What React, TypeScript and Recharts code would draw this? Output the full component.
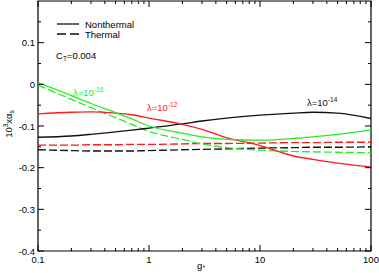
import { Line, LineChart, ReferenceArea, XAxis, YAxis } from "recharts";

const gValues = [0.1, 0.2, 0.3, 0.5, 0.7, 1, 2, 3, 5, 10, 20, 30, 50, 100];

// lambda = 1e-14
const nonthermal14 = [-0.127, -0.124, -0.12, -0.114, -0.11, -0.105, -0.095, -0.088, -0.081, -0.074, -0.069, -0.067, -0.069, -0.082];
const thermal14 = [-0.157, -0.159, -0.16, -0.16, -0.16, -0.159, -0.157, -0.156, -0.155, -0.153, -0.152, -0.151, -0.151, -0.15];
// lambda = 1e-12
const nonthermal12 = [-0.071, -0.067, -0.066, -0.069, -0.073, -0.081, -0.096, -0.108, -0.128, -0.147, -0.172, -0.18, -0.189, -0.198];
const thermal12 = [-0.146, -0.146, -0.145, -0.145, -0.144, -0.144, -0.143, -0.142, -0.142, -0.141, -0.14, -0.14, -0.139, -0.139];
// lambda = 1e-16
const nonthermal16 = [0.004, -0.027, -0.046, -0.068, -0.083, -0.1, -0.117, -0.126, -0.132, -0.134, -0.13, -0.126, -0.12, -0.11];
const thermal16 = [-0.002, -0.036, -0.056, -0.08, -0.096, -0.113, -0.132, -0.143, -0.152, -0.158, -0.161, -0.162, -0.163, -0.164];

const xMajor = [0.1, 1, 10, 100];
const xMinor = [0.2, 0.3, 0.4, 0.5, 0.6, 0.7, 0.8, 0.9, 2, 3, 4, 5, 6, 7, 8, 9, 20, 30, 40, 50, 60, 70, 80, 90];
const yMajor = [-0.4, -0.3, -0.2, -0.1, 0, 0.1];
const yMinor = [-0.35, -0.25, -0.15, -0.05, 0.05, 0.15];
const yLabels = ["-0.4", "-0.3", "-0.2", "-0.1", "0", "0.1"];

const data = gValues.map((g, i) => ({
  g,
  n14: nonthermal14[i],
  t14: thermal14[i],
  n12: nonthermal12[i],
  t12: thermal12[i],
  n16: nonthermal16[i],
  t16: thermal16[i]
}));

const BLACK = "#111";
const RED = "#ff1a1a";
const GREEN = "#22ee22";
const FONT = "'Liberation Sans', Arial, sans-serif";
const DASH = "8 3";

const isMajor = (list: number[], v: number) => list.some((m) => Math.abs(m - v) < 1e-9);

// ticks are thin filled rects pointing into the plot
const BottomTick = (props: any) => {
  const { x, y, payload } = props;
  const len = isMajor(xMajor, payload.value) ? 6 : 3;
  return (
    <g>
      <rect x={x - 0.5} y={y - len} width={1} height={len} fill="#000" />
      {len === 6 && (
        <text x={x} y={y + 12} textAnchor="middle" fontSize={9.5} fontFamily={FONT} fill="#000">
          {payload.value}
        </text>
      )}
    </g>
  );
};

const TopTick = (props: any) => {
  const { x, y, payload } = props;
  const len = isMajor(xMajor, payload.value) ? 6 : 3;
  return <rect x={x - 0.5} y={y} width={1} height={len} fill="#000" />;
};

const LeftTick = (props: any) => {
  const { x, y, payload } = props;
  const idx = yMajor.findIndex((m) => Math.abs(m - payload.value) < 1e-9);
  const len = idx >= 0 ? 6 : 3;
  return (
    <g>
      <rect x={x} y={y - 0.5} width={len} height={1} fill="#000" />
      {idx >= 0 && (
        <text x={x - 3} y={y + 3.5} textAnchor="end" fontSize={9.5} fontFamily={FONT} fill="#000">
          {yLabels[idx]}
        </text>
      )}
    </g>
  );
};

const RightTick = (props: any) => {
  const { x, y, payload } = props;
  const len = isMajor(yMajor, payload.value) ? 6 : 3;
  return <rect x={x - len} y={y - 0.5} width={len} height={1} fill="#000" />;
};

const allX = [...xMajor, ...xMinor].sort((a, b) => a - b);
const allY = [...yMajor, ...yMinor].sort((a, b) => a - b);

export default function App() {
  return (
    <div style={{ position: "absolute", left: 0, top: 0, width: 379, height: 273, background: "#fff" }}>
      <LineChart width={379} height={273} data={data} margin={{ top: 0, right: 7, bottom: 0, left: 0 }}>
        <XAxis
          xAxisId="b"
          dataKey="g"
          type="number"
          scale="log"
          domain={[0.1, 100]}
          ticks={allX}
          interval={0}
          tickSize={0}
          tickMargin={0}
          tickLine={false}
          height={22}
          axisLine={false}
          tick={<BottomTick />}
          allowDataOverflow
        />
        <XAxis
          xAxisId="t"
          dataKey="g"
          type="number"
          scale="log"
          orientation="top"
          domain={[0.1, 100]}
          ticks={allX}
          interval={0}
          tickSize={0}
          tickMargin={0}
          tickLine={false}
          height={1}
          axisLine={false}
          tick={<TopTick />}
          allowDataOverflow
        />
        <YAxis
          yAxisId="l"
          type="number"
          domain={[-0.4, 0.2]}
          ticks={allY}
          interval={0}
          tickSize={0}
          tickMargin={0}
          tickLine={false}
          width={38}
          axisLine={false}
          tick={<LeftTick />}
          allowDataOverflow
        />
        <YAxis
          yAxisId="r"
          orientation="right"
          type="number"
          domain={[-0.4, 0.2]}
          ticks={allY}
          interval={0}
          tickSize={0}
          tickMargin={0}
          tickLine={false}
          width={1}
          axisLine={false}
          tick={<RightTick />}
          allowDataOverflow
        />
        <ReferenceArea
          xAxisId="b"
          yAxisId="l"
          x1={0.1}
          x2={100}
          y1={-0.4}
          y2={0.2}
          fill="none"
          fillOpacity={0}
          stroke="#000"
          strokeWidth={1.2}
          strokeOpacity={1}
          ifOverflow="visible"
        />
        <Line xAxisId="b" yAxisId="l" type="monotone" dataKey="t14" stroke={BLACK} strokeWidth={1.3} strokeDasharray={DASH} dot={false} isAnimationActive={false} />
        <Line xAxisId="b" yAxisId="l" type="monotone" dataKey="t12" stroke={RED} strokeWidth={1.3} strokeDasharray={DASH} dot={false} isAnimationActive={false} />
        <Line xAxisId="b" yAxisId="l" type="monotone" dataKey="t16" stroke={GREEN} strokeWidth={1.3} strokeDasharray={DASH} dot={false} isAnimationActive={false} />
        <Line xAxisId="b" yAxisId="l" type="monotone" dataKey="n14" stroke={BLACK} strokeWidth={1.3} dot={false} isAnimationActive={false} />
        <Line xAxisId="b" yAxisId="l" type="monotone" dataKey="n12" stroke={RED} strokeWidth={1.3} dot={false} isAnimationActive={false} />
        <Line xAxisId="b" yAxisId="l" type="monotone" dataKey="n16" stroke={GREEN} strokeWidth={1.3} dot={false} isAnimationActive={false} />
      </LineChart>
      <svg width={379} height={273} style={{ position: "absolute", left: 0, top: 0, pointerEvents: "none" }} fontFamily={FONT}>
        <line x1={57} x2={79} y1={24} y2={24} stroke={BLACK} strokeWidth={1.3} />
        <text x={85} y={27.5} fontSize={9.5} fill="#000">Nonthermal</text>
        <line x1={57} x2={79} y1={34} y2={34} stroke={BLACK} strokeWidth={1.3} strokeDasharray="9 4" />
        <text x={85} y={37.5} fontSize={9.5} fill="#000">Thermal</text>
        <text x={56} y={58.5} fontSize={9.5} fill="#000">
          C<tspan fontSize={6.5} dy={2.5}>T</tspan>
          <tspan dy={-2.5}>=0.004</tspan>
        </text>
        <text x={73} y={96} fontSize={9.5} fill={GREEN}>
          λ=10<tspan fontSize={6.5} dy={-4}>-16</tspan>
        </text>
        <text x={147} y={111} fontSize={9.5} fill={RED}>
          λ=10<tspan fontSize={6.5} dy={-4}>-12</tspan>
        </text>
        <text x={307} y={106} fontSize={9.5} fill={BLACK}>
          λ=10<tspan fontSize={6.5} dy={-4}>-14</tspan>
        </text>
        <text x={201} y={269} fontSize={9.5} fill="#000" textAnchor="middle">
          g<tspan fontSize={6.5} dy={1}>*</tspan>
        </text>
        <text transform="translate(12,124) rotate(-90)" fontSize={9.5} fill="#000" textAnchor="middle">
          10<tspan fontSize={6.5} dy={-4}>3</tspan>
          <tspan dy={4}>xα</tspan>
          <tspan fontSize={6.5} dy={2}>s</tspan>
        </text>
      </svg>
    </div>
  );
}
